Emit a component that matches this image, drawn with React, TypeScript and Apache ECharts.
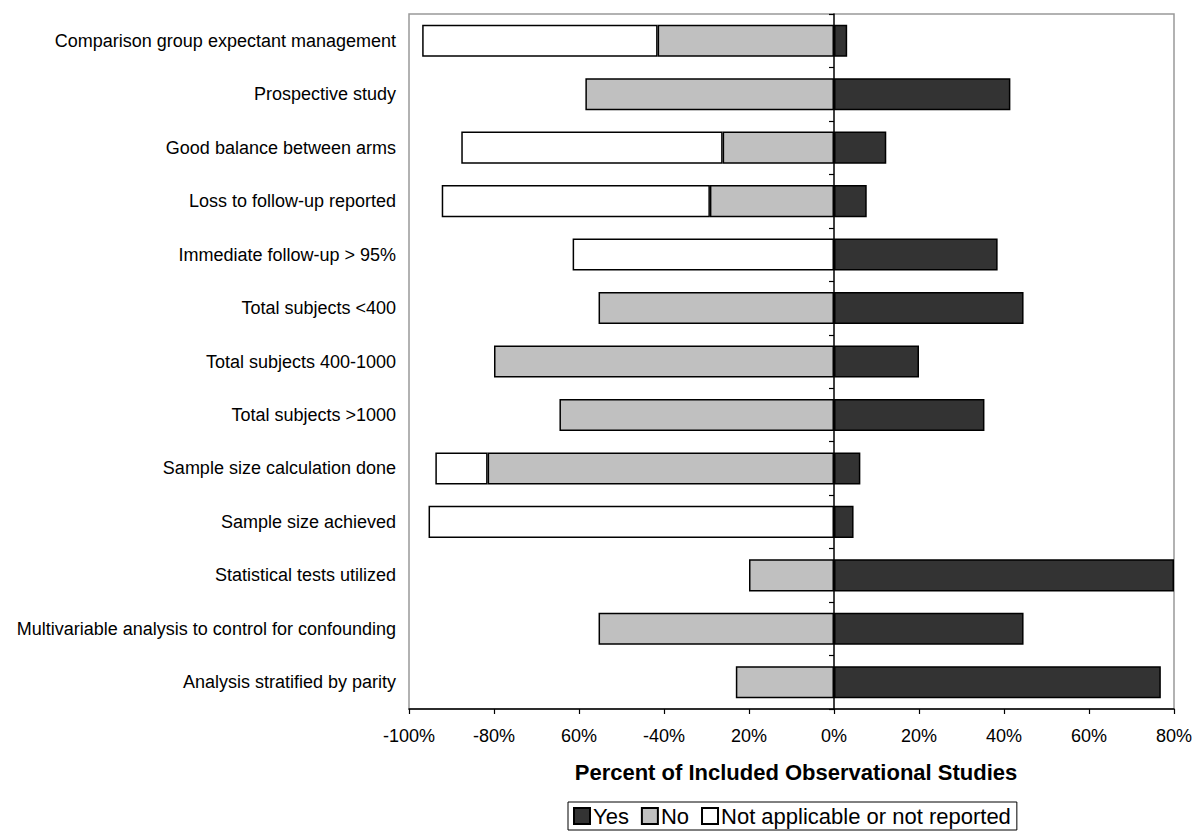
import React, { useEffect, useRef } from "react";
import * as echarts from "echarts";

const categories = [
  "Comparison group expectant management",
  "Prospective study",
  "Good balance between arms",
  "Loss to follow-up reported",
  "Immediate follow-up > 95%",
  "Total subjects <400",
  "Total subjects 400-1000",
  "Total subjects >1000",
  "Sample size calculation done",
  "Sample size achieved",
  "Statistical tests utilized",
  "Multivariable analysis to control for confounding",
  "Analysis stratified by parity",
];

const yesValues = [3.1, 41.5, 12.3, 7.7, 38.5, 44.6, 20.0, 35.4, 6.2, 4.6, 80.0, 44.6, 76.9];
const noValues = [41.5, 58.5, 26.2, 29.2, 0, 55.4, 80.0, 64.6, 81.5, 0, 20.0, 55.4, 23.1];
const naValues = [55.4, 0, 61.5, 63.1, 61.5, 0, 0, 0, 12.3, 95.4, 0, 0, 0];

const xTickLabels = ["-100%", "-80%", "60%", "-40%", "20%", "0%", "20%", "40%", "60%", "80%"];

const FONT = "'Liberation Sans', Arial, Helvetica, sans-serif";

export default function App() {
  const ref = useRef<HTMLDivElement>(null);

  useEffect(() => {
    document.body.style.margin = "0";
    if (!ref.current) return;
    const chart = echarts.init(ref.current, null, { renderer: "svg" });
    const barStyle = (color: string) => ({
      color,
      borderColor: "#000",
      borderWidth: 1.5,
    });
    chart.setOption({
      animation: false,
      backgroundColor: "#fff",
      textStyle: { fontFamily: FONT },
      title: {
        text: "Percent of Included Observational Studies",
        left: 791,
        textAlign: "center",
        top: 756,
        textStyle: { fontFamily: FONT, fontSize: 22, fontWeight: "bold", color: "#000" },
      },
      legend: {
        left: 568,
        top: 802,
        orient: "horizontal",
        icon: "rect",
        itemWidth: 16,
        itemHeight: 16,
        itemGap: 12,
        padding: [3, 6, 3, 5],
        borderColor: "#000",
        borderWidth: 1,
        textStyle: { fontFamily: FONT, fontSize: 22, color: "#000", padding: [0, 0, 0, -2] },
        data: ["Yes", "No", "Not applicable or not reported"],
      },
      grid: {
        left: 409,
        right: 22,
        top: 14,
        bottom: 123,
        show: true,
        borderColor: "#999",
        borderWidth: 1.5,
        backgroundColor: "transparent",
      },
      xAxis: {
        type: "value",
        min: -100,
        max: 80,
        interval: 20,
        position: "bottom",
        splitLine: { show: false },
        axisLine: { show: true, onZero: false, lineStyle: { color: "#000", width: 1.5 } },
        axisTick: { show: true, length: 5, lineStyle: { color: "#000", width: 1.2 } },
        axisLabel: {
          margin: 18,
          fontFamily: FONT,
          fontSize: 18,
          color: "#000",
          formatter: (v: number) => xTickLabels[Math.round((v + 100) / 20)] ?? "",
        },
      },
      yAxis: [
        {
          type: "category",
          data: categories,
          inverse: true,
          position: "left",
          axisLine: { show: false, onZero: false },
          axisTick: { show: false },
          axisLabel: { margin: 13, fontFamily: FONT, fontSize: 18, color: "#000" },
        },
        {
          type: "category",
          data: categories,
          inverse: true,
          position: "left",
          axisLine: { show: true, onZero: true, lineStyle: { color: "#000", width: 1.5 } },
          axisTick: { show: true, length: 5, lineStyle: { color: "#000", width: 1.2 } },
          axisLabel: { show: false },
        },
      ],
      series: [
        {
          name: "Yes",
          type: "bar",
          stack: "total",
          yAxisIndex: 0,
          barCategoryGap: "40%",
          itemStyle: barStyle("#333333"),
          data: yesValues,
        },
        {
          name: "No",
          type: "bar",
          stack: "total",
          yAxisIndex: 0,
          barCategoryGap: "40%",
          itemStyle: barStyle("#c0c0c0"),
          data: noValues.map((v) => (v === 0 ? null : -v)),
        },
        {
          name: "Not applicable or not reported",
          type: "bar",
          stack: "total",
          yAxisIndex: 0,
          barCategoryGap: "40%",
          itemStyle: barStyle("#ffffff"),
          data: naValues.map((v) => (v === 0 ? null : -v)),
        },
      ],
    });
    return () => chart.dispose();
  }, []);

  return <div ref={ref} style={{ width: 1196, height: 832 }} />;
}
